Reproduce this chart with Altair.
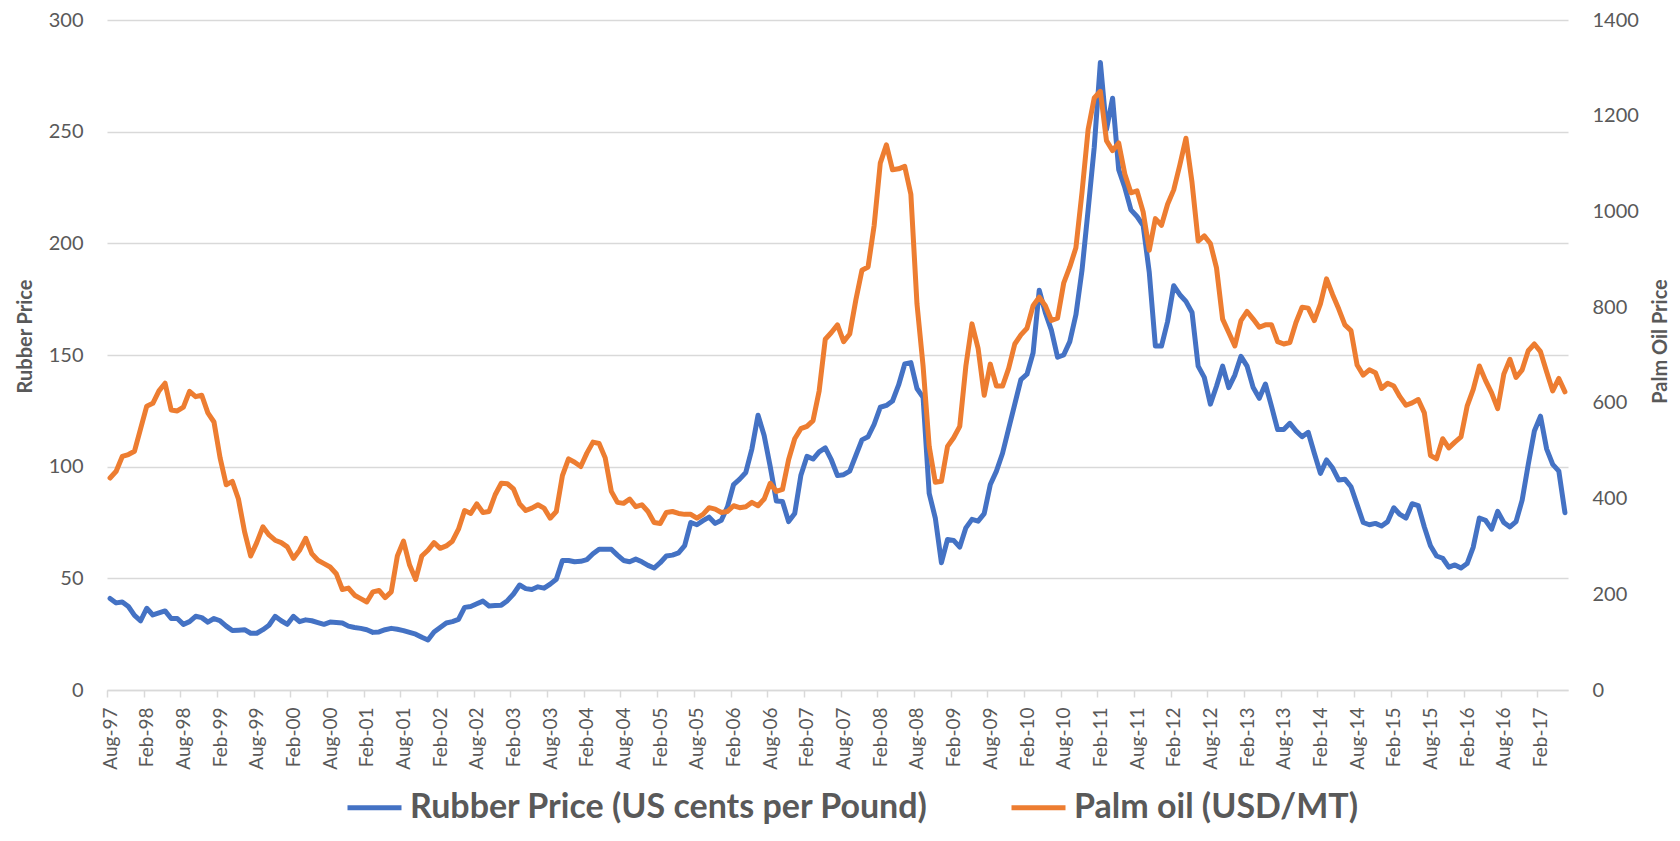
import json
import altair as alt
import pandas as pd

# Monthly prices, Aug-97 .. Jun-17
RUBBER = [
    41, 39, 39.4, 37.4, 33.4, 31, 36.6, 33.6, 34.5, 35.4, 32, 32, 29.4, 30.6, 33, 32.4, 30.4, 32, 31, 28.6,
    26.6, 26.8, 27, 25.4, 25.4, 27, 29, 33, 31, 29.4, 33, 30.6, 31.4, 31, 30.2, 29.4, 30.4, 30.2, 30, 28.6,
    28, 27.6, 27, 25.8, 26, 27, 27.6, 27.2, 26.6, 25.8, 25, 23.6, 22.4, 26, 28, 30, 30.6, 31.6, 37, 37.4,
    38.6, 39.8, 37.6, 37.8, 38, 40, 43, 47, 45.4, 45, 46.2, 45.6, 47.4, 49.6, 58, 58, 57.4, 57.6, 58.4, 61,
    63, 63, 63, 60.4, 58, 57.4, 58.6, 57.4, 55.8, 54.6, 57, 60, 60.4, 61.4, 64.6, 75, 74, 75.8, 77.4, 74.6,
    76, 82, 92, 94.4, 97.4, 108, 123, 114, 100, 84.6, 84.4, 75.4, 79, 96, 104.6, 103.4, 106.6, 108.4, 103, 96,
    96.4, 98, 105, 112, 113.4, 119, 126.6, 127.4, 129.4, 136.6, 146, 146.6, 135, 131, 88, 77, 57, 67.4, 67, 64,
    72.6, 76.4, 75.6, 79, 92, 98, 106, 117, 128, 139, 141.4, 151, 179, 169, 161, 149, 150, 156, 168, 188,
    215, 243, 281, 251, 265, 233, 225, 215, 212, 208, 187, 154, 154, 165, 181, 177, 174, 169, 145, 140,
    128, 136, 145, 135.4, 141, 149.4, 145, 135.4, 130.6, 137, 127, 116.6, 116.6, 119.4, 116, 113.4, 115.4, 106, 97, 103,
    99.4, 94, 94.4, 91, 83, 75, 74, 74.6, 73.4, 75.4, 81.6, 78.6, 77, 83.4, 82.6, 73, 64.6, 60, 59, 55,
    56, 54.6, 56.6, 64, 77, 76, 72, 80, 75, 73, 75.4, 85, 101, 116, 122.6, 108, 101, 98, 79.4,
]
PALM = [
    443, 457, 488, 492, 499, 546, 593, 599, 625, 641, 585, 583, 591, 624, 613, 616, 579, 560, 485, 429,
    436, 399, 331, 280, 308, 341, 324, 313, 308, 299, 275, 292, 317, 285, 271, 264, 257, 243, 210, 213,
    198, 191, 184, 205, 208, 193, 205, 280, 311, 261, 231, 280, 292, 308, 296, 301, 311, 336, 375, 369,
    389, 371, 373, 408, 432, 431, 420, 389, 375, 380, 387, 380, 359, 373, 448, 483, 476, 467, 495, 518,
    515, 485, 415, 392, 390, 399, 383, 387, 373, 350, 348, 371, 373, 369, 367, 367, 359, 367, 381, 378,
    371, 373, 385, 381, 383, 392, 385, 399, 432, 415, 419, 481, 525, 546, 551, 563, 625, 733, 747, 763,
    728, 744, 815, 877, 884, 971, 1101, 1139, 1087, 1089, 1094, 1036, 807, 677, 509, 434, 436, 509, 527, 551,
    677, 765, 714, 616, 681, 635, 635, 672, 723, 742, 756, 803, 821, 803, 772, 777, 850, 884, 924, 1040,
    1171, 1237, 1251, 1148, 1127, 1143, 1078, 1039, 1043, 999, 919, 985, 971, 1015, 1045, 1097, 1153, 1060, 938, 949,
    933, 882, 775, 747, 719, 772, 791, 775, 758, 763, 763, 728, 723, 726, 768, 800, 798, 772, 807, 859,
    826, 796, 763, 751, 679, 658, 669, 663, 630, 641, 635, 613, 595, 600, 607, 579, 490, 483, 525, 506,
    518, 529, 593, 628, 677, 647, 621, 588, 660, 691, 653, 669, 709, 723, 707, 665, 625, 651, 623,
]
TICK_LABELS = [
    "Aug-97", "Feb-98", "Aug-98", "Feb-99", "Aug-99", "Feb-00", "Aug-00", "Feb-01", "Aug-01", "Feb-02",
    "Aug-02", "Feb-03", "Aug-03", "Feb-04", "Aug-04", "Feb-05", "Aug-05", "Feb-06", "Aug-06", "Feb-07",
    "Aug-07", "Feb-08", "Aug-08", "Feb-09", "Aug-09", "Feb-10", "Aug-10", "Feb-11", "Aug-11", "Feb-12",
    "Aug-12", "Feb-13", "Aug-13", "Feb-14", "Aug-14", "Feb-15", "Aug-15", "Feb-16", "Aug-16", "Feb-17",
]
SERIES = ["Rubber Price (US cents per Pound)", "Palm oil (USD/MT)"]
COLORS = ["#4472C4", "#ED7D31"]
LEFT_TICKS = [0, 50, 100, 150, 200, 250, 300]
RIGHT_TICKS = [0, 200, 400, 600, 800, 1000, 1200, 1400]

n = len(RUBBER)
df = pd.DataFrame({"k": list(range(n)), "rubber": RUBBER, "palm": PALM[:n]})

FONT = "Lato"
GRAY = "#595959"
W, H = 1461, 670
step = W / n

x_enc = alt.X(
    "k:Q",
    scale=alt.Scale(domain=[-0.5, n - 0.5], nice=False, zero=False),
    axis=alt.Axis(
        values=[6 * i for i in range(len(TICK_LABELS))],
        labelExpr=f"{json.dumps(TICK_LABELS)}[round(datum.value / 6)]",
        labelAngle=270, labelFont=FONT, labelFontSize=19, labelColor=GRAY,
        labelPadding=10, labelOverlap=False, labelFlush=False,
        tickColor="#d9d9d9", tickSize=7, tickWidth=1.5,
        tickOffset=-step / 2, labelOffset=step / 2,
        domainColor="#d9d9d9", domainWidth=1.5, grid=False, title=None,
    ),
)

color_scale = alt.Scale(domain=SERIES, range=COLORS)
legend = alt.Legend(
    title=None, orient="none", legendX=238, legendY=758, direction="horizontal",
    symbolType="stroke", symbolSize=54 * 54, symbolStrokeWidth=5,
    labelFont=FONT, labelFontSize=34, labelFontWeight="bold", labelColor=GRAY,
    labelOffset=6, labelLimit=1000, columnPadding=72,
)

rub = alt.Chart(df).transform_calculate(series=f"'{SERIES[0]}'").mark_line(
    strokeWidth=5, strokeJoin="round", strokeCap="round"
).encode(
    x=x_enc,
    y=alt.Y(
        "rubber:Q",
        scale=alt.Scale(domain=[0, 300], nice=False),
        axis=alt.Axis(
            orient="left", values=LEFT_TICKS, grid=True, gridColor="#d9d9d9", gridWidth=1.5,
            domain=False, ticks=False, labelFont=FONT, labelFontSize=20, labelColor=GRAY,
            labelPadding=24, title="Rubber Price", titleFont=FONT, titleFontSize=20,
            titleFontWeight="bold", titleColor=GRAY, titleAngle=270, titleX=-82, titleY=316,
            titleAlign="center", titleBaseline="middle",
        ),
    ),
    color=alt.Color("series:N", scale=color_scale, legend=legend),
)

palm = alt.Chart(df).transform_calculate(series=f"'{SERIES[1]}'").mark_line(
    strokeWidth=5, strokeJoin="round", strokeCap="round"
).encode(
    x=x_enc,
    y=alt.Y(
        "palm:Q",
        scale=alt.Scale(domain=[0, 1400], nice=False),
        axis=alt.Axis(
            orient="right", values=RIGHT_TICKS, format="d", grid=False, domain=False, ticks=False,
            labelFont=FONT, labelFontSize=20, labelColor=GRAY, labelPadding=24,
            title="Palm Oil Price", titleFont=FONT, titleFontSize=20, titleFontWeight="bold",
            titleColor=GRAY, titleAngle=270, titleX=92, titleY=321,
            titleAlign="center", titleBaseline="middle",
        ),
    ),
    color=alt.Color("series:N", scale=color_scale, legend=legend),
)

chart = alt.layer(rub, palm).resolve_scale(y="independent").properties(
    width=W, height=H,
    padding={"left": 99, "top": 12, "right": 104, "bottom": 138},
    autosize="none",
    background="white",
).configure_view(stroke=None)

chart.save("out.html", embed_options={"renderer": "svg", "actions": False})
